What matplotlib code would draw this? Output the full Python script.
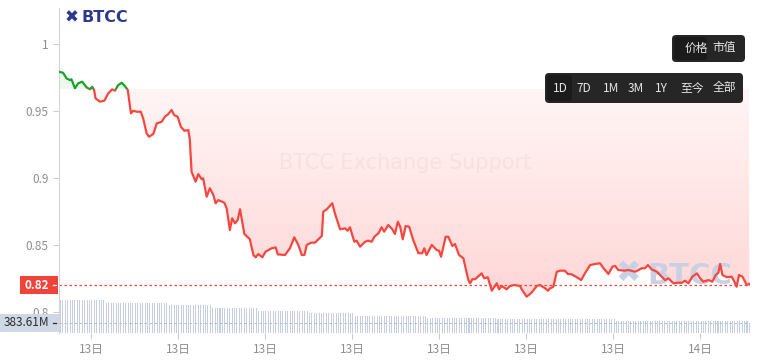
import numpy as np
import matplotlib
matplotlib.use("Agg")
import matplotlib.pyplot as plt
from matplotlib.colors import LinearSegmentedColormap
from matplotlib.path import Path
from matplotlib.patches import FancyBboxPatch, Rectangle
from matplotlib.lines import Line2D

plt.rcParams['font.family'] = ['Noto Sans CJK SC', 'DejaVu Sans']

# price trace, hours after 13日 00:00
hours = [1.90, 2.04, 2.16, 2.28, 2.33, 2.45, 2.56, 2.70, 2.85, 2.97, 3.04, 3.11, 3.16, 3.31, 3.46,
         3.60, 3.73, 3.83, 3.94, 4.06, 4.17, 4.27, 4.38, 4.46, 4.58, 4.72, 4.80, 4.92, 5.00, 5.15,
         5.27, 5.44, 5.55, 5.67, 5.78, 5.87, 5.99, 6.10, 6.22, 6.36, 6.41, 6.47, 6.61, 6.70, 6.82,
         6.87, 6.99, 7.10, 7.22, 7.30, 7.39, 7.60, 7.68, 7.79, 7.87, 7.97, 8.06, 8.14, 8.29, 8.48,
         8.60, 8.68, 8.77, 8.91, 9.02, 9.23, 9.37, 9.44, 9.69, 9.86, 10.01, 10.15, 10.27, 10.36, 10.44,
         10.59, 10.72, 10.84, 10.96, 11.01, 11.13, 11.32, 11.41, 11.59, 11.76, 11.85, 11.93, 12.08, 12.16, 12.28,
         12.45, 12.56, 12.68, 12.77, 12.91, 13.02, 13.11, 13.25, 13.39, 13.48, 13.58, 13.66, 13.75, 13.85, 13.97,
         14.11, 14.29, 14.42, 14.49, 14.57, 14.75, 14.92, 15.00, 15.07, 15.23, 15.32, 15.46, 15.55, 15.69, 15.84,
         16.01, 16.07, 16.15, 16.24, 16.47, 16.56, 16.68, 16.82, 16.99, 17.07, 17.16, 17.33, 17.45, 17.60, 17.79,
         17.85, 18.02, 18.19, 18.37, 18.48, 18.66, 18.75, 18.83, 18.94, 19.06, 19.17, 19.34, 19.44, 19.57, 19.75,
         19.90, 20.03, 20.21, 20.38, 20.55, 20.67, 20.84, 20.98, 21.07, 21.18, 21.39, 21.53, 21.76, 21.99, 22.10,
         22.20, 22.33, 22.51, 22.68, 22.79, 22.91, 23.08, 23.19, 23.37, 23.48, 23.60, 23.73, 23.89, 24.00, 24.11,
         24.29, 24.42, 24.54, 24.63, 24.69, 24.77, 24.92, 25.09, 25.18, 25.26, 25.34, 25.46, 25.55, 25.61, 25.69]
prices = [0.9793, 0.9786, 0.9744, 0.9731, 0.9737, 0.9670, 0.9707, 0.9719, 0.9677, 0.9662, 0.9681, 0.9657, 0.9595, 0.9570, 0.9577,
          0.9632, 0.9662, 0.9652, 0.9694, 0.9711, 0.9687, 0.9657, 0.9483, 0.9502, 0.9495, 0.9495, 0.9446, 0.9334, 0.9308, 0.9329,
          0.9408, 0.9420, 0.9458, 0.9478, 0.9508, 0.9470, 0.9458, 0.9383, 0.9353, 0.9358, 0.9284, 0.9047, 0.8973, 0.9030, 0.8991,
          0.8998, 0.8861, 0.8924, 0.8874, 0.8812, 0.8836, 0.8816, 0.8774, 0.8612, 0.8700, 0.8662, 0.8687, 0.8767, 0.8583, 0.8543,
          0.8426, 0.8409, 0.8433, 0.8409, 0.8451, 0.8476, 0.8483, 0.8431, 0.8426, 0.8476, 0.8558, 0.8501, 0.8426, 0.8426, 0.8501,
          0.8518, 0.8518, 0.8543, 0.8568, 0.8749, 0.8767, 0.8812, 0.8737, 0.8618, 0.8625, 0.8607, 0.8633, 0.8525, 0.8533, 0.8488,
          0.8525, 0.8533, 0.8525, 0.8562, 0.8588, 0.8633, 0.8600, 0.8650, 0.8618, 0.8583, 0.8674, 0.8637, 0.8543, 0.8642, 0.8637,
          0.8538, 0.8439, 0.8439, 0.8476, 0.8426, 0.8501, 0.8463, 0.8458, 0.8413, 0.8562, 0.8562, 0.8493, 0.8508, 0.8426, 0.8401,
          0.8239, 0.8215, 0.8245, 0.8245, 0.8289, 0.8252, 0.8260, 0.8160, 0.8215, 0.8170, 0.8195, 0.8170, 0.8195, 0.8202, 0.8195,
          0.8170, 0.8115, 0.8145, 0.8195, 0.8202, 0.8177, 0.8160, 0.8177, 0.8189, 0.8301, 0.8309, 0.8309, 0.8284, 0.8282, 0.8260,
          0.8239, 0.8289, 0.8351, 0.8359, 0.8364, 0.8327, 0.8284, 0.8339, 0.8344, 0.8314, 0.8309, 0.8314, 0.8301, 0.8327, 0.8327,
          0.8351, 0.8319, 0.8301, 0.8264, 0.8239, 0.8252, 0.8215, 0.8219, 0.8219, 0.8234, 0.8215, 0.8264, 0.8289, 0.8252, 0.8227,
          0.8239, 0.8227, 0.8277, 0.8294, 0.8359, 0.8277, 0.8260, 0.8264, 0.8227, 0.8189, 0.8277, 0.8264, 0.8227, 0.8202, 0.8210]
open_price = 0.9665
last_price = 0.82

# volume (M), read as steps from the bars
vol_step_end = [3.48, 5.66, 7.17, 8.76, 10.48, 12.10, 14.60, 17.00, 21.10, 26.00]
vol_levels = [1266, 1132, 1055, 978, 844, 767, 652, 575, 537, 460]
last_volume = 383.61

tick_hours = [3, 6, 9, 12, 15, 18, 21, 24]
tick_labels = ['13日', '13日', '13日', '13日', '13日', '13日', '13日', '14日']
ytick_values = [0.8, 0.85, 0.9, 0.95, 1.0]
ytick_labels = ['0.8', '0.85', '0.9', '0.95', '1']
mode_buttons = ['价格', '市值']
range_buttons = ['1D', '7D', '1M', '3M', '1Y', '至今', '全部']

RED = '#f5473f'
GREEN = '#1aa32a'
GREY = '#8f8f8f'

x = np.array(hours)
y = np.array(prices)
xmin, xmax = 1.90, 25.72
ymin, ymax = 0.7844, 1.0269

fig = plt.figure(figsize=(7.61, 3.6), dpi=100)
ax = fig.add_axes([59 / 761, 1 - 333 / 360, 691 / 761, 325 / 360])
inch = fig.dpi_scale_trans


def px(xp, yp):
    return xp / 100, (360 - yp) / 100


# fills
red_fill = ax.fill_between(x, y, open_price, where=y < open_price, interpolate=True,
                           color='none', lw=0)
grad = np.linspace(0, 1, 256).reshape(-1, 1)
cmap = LinearSegmentedColormap.from_list('redfade', [(1, 0.36, 0.36, 0.28), (1, 0.36, 0.36, 0.06)])
im = ax.imshow(grad, extent=(xmin, xmax, ymin, open_price), origin='lower',
               aspect='auto', cmap=cmap, zorder=1)
im.set_clip_path(Path.make_compound_path(*red_fill.get_paths()), ax.transData)
ax.fill_between(x, y, open_price, where=y >= open_price, interpolate=True,
                color=GREEN, alpha=0.08, lw=0, zorder=1)

# watermarks
ax.text(*px(405, 163), 'BTCC Exchange Support', transform=inch, fontsize=15,
        color='#c89a9a', alpha=0.12, ha='center', va='center', family='DejaVu Sans', zorder=1.5)
ax.text(*px(628, 273), '✖', transform=inch, fontsize=22, color='#c9d0e4',
        ha='center', va='center', family='DejaVu Sans', zorder=1.5)
ax.text(*px(690, 276), 'BTCC', transform=inch, fontsize=21, fontweight='bold',
        color='#c9d0e4', ha='center', va='center', family='DejaVu Sans', zorder=1.5)

# price line: green above open price, red below
above = Path([(xmin, open_price), (xmax, open_price), (xmax, 2), (xmin, 2), (xmin, open_price)])
below = Path([(xmin, open_price), (xmax, open_price), (xmax, 0), (xmin, 0), (xmin, open_price)])
l_red, = ax.plot(x, y, color=RED, lw=1.6, zorder=3, solid_joinstyle='round')
l_red.set_clip_path(below, ax.transData)
l_green, = ax.plot(x, y, color=GREEN, lw=1.6, zorder=3, solid_joinstyle='round')
l_green.set_clip_path(above, ax.transData)

ax.axhline(last_price, color=RED, lw=0.9, ls=(0, (2, 2)), zorder=2.5)

ax.set_xlim(xmin, xmax)
ax.set_ylim(ymin, ymax)
ax.set_xticks(tick_hours)
ax.set_xticklabels(tick_labels)
ax.set_yticks(ytick_values)
ax.set_yticklabels(ytick_labels)
ax.tick_params(axis='both', colors='#cccccc', labelcolor=GREY, labelsize=8.5, length=4, width=0.8)
for side in ['top', 'right', 'bottom']:
    ax.spines[side].set_visible(False)
ax.spines['left'].set_color('#d6d6d6')

# volume bars
ax2 = ax.twinx()
bar_x = np.arange(1.95, xmax, 1 / 12)
bar_v = np.array(vol_levels)[np.searchsorted(vol_step_end, bar_x)].astype(float)
bar_v[-1] = last_volume
ax2.bar(bar_x, bar_v, width=0.035, color='#c6cee1', lw=0)
ax2.set_ylim(0, last_volume * 32.5)
ax2.set_xlim(xmin, xmax)
ax2.axhline(last_volume, color='#aab3c8', lw=0.6, ls=(0, (3, 3)))
ax2.set_yticks([])
for s in ax2.spines.values():
    s.set_visible(False)


def side_label(axis, value, text, x0, fc, tc, bold=False):
    # label box sitting against the left axis line, centred on the value
    yd = axis.transData.transform((xmin, value))[1] / 100
    fig.patches.append(Rectangle((x0 / 100, yd - 0.09), (58.5 - x0) / 100, 0.18,
                                 transform=inch, fc=fc, ec='none', zorder=5))
    fig.lines.append(Line2D([0.525, 0.565], [yd, yd], transform=inch, color=tc, lw=0.9, zorder=6))
    fig.text(0.49, yd, text, transform=inch, ha='right', va='center', fontsize=8.5,
             color=tc, fontweight='bold' if bold else 'normal', zorder=6)


side_label(ax, last_price, f'{last_price:.2f}', 20, '#f0443a', 'white', bold=True)
side_label(ax2, last_volume, f'{last_volume:.2f}M', 0, '#d0d7e5', '#2b2b2b')

# logo
fig.text(*px(72, 18), '✖', transform=inch, fontsize=12, color='#2d3a8c',
         ha='center', va='center', family='DejaVu Sans')
fig.text(*px(105, 18), 'BTCC', transform=inch, fontsize=11.5, fontweight='bold',
         color='#2d3a8c', ha='center', va='center', family='DejaVu Sans')


def box(x0, y0, x1, y1, color, r=0.04):
    bx, by = px(x0, y1)
    fig.patches.append(FancyBboxPatch((bx, by), (x1 - x0) / 100, (y1 - y0) / 100,
                                      boxstyle=f'round,pad=0,rounding_size={r}',
                                      transform=inch, fc=color, ec='none', zorder=6))


box(672, 35, 745, 62, '#262626')
box(674, 37, 707, 60, '#1b1b1b', 0.03)
for label, cx in zip(mode_buttons, [696, 724]):
    fig.text(*px(cx, 48), label, transform=inch, fontsize=8.5, color='#e6e6e6',
             ha='center', va='center', zorder=7)

box(545, 73, 743, 103, '#262626')
box(547, 75, 572, 101, '#1b1b1b', 0.03)
for label, cx in zip(range_buttons, [560, 584, 611, 636, 661, 692, 724]):
    fig.text(*px(cx, 88), label, transform=inch, fontsize=8.5, color='#e6e6e6',
             ha='center', va='center', zorder=7)

fig.savefig('out.png', dpi=100)
